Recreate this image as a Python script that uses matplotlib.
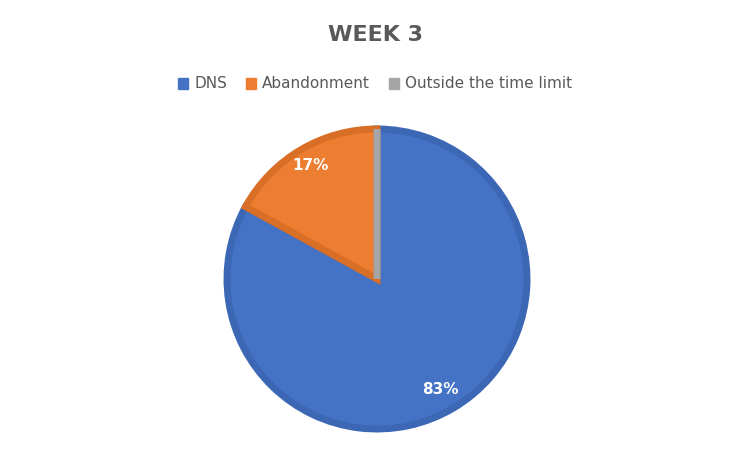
import matplotlib
matplotlib.use("Agg")
import matplotlib.pyplot as plt
from matplotlib.patches import Patch

labels = ["DNS", "Abandonment", "Outside the time limit"]
values = [83, 17, 0]
fills = ["#4472C4", "#ED7D31", "#A5A5A5"]
edges = ["#3C67B5", "#D96F27", "#A5A5A5"]

fig = plt.figure(figsize=(7.5, 4.53), dpi=100)
ax = fig.add_axes([0, 0, 1, 1])

wedges, texts, autotexts = ax.pie(
    values, startangle=90, counterclock=False, colors=fills,
    explode=[0.0, 0.035, 0.0], center=(377, 453 - 279), radius=150,
    autopct=lambda p: f"{p:.0f}%" if p > 0.5 else "", pctdistance=0.78,
    wedgeprops=dict(linewidth=5, joinstyle="miter"),
    textprops=dict(color="white", fontsize=11, fontweight="bold"),
)
for w, e in zip(wedges, edges):
    w.set_edgecolor(e)
# nudge labels to Excel-like spots
autotexts[0].set_position((440, 453 - 390))
autotexts[1].set_position((310, 453 - 165))

ax.set_xlim(0, 750)
ax.set_ylim(0, 453)
ax.set_aspect("equal")
ax.axis("off")

fig.text(0.5, 1 - 35 / 453, "WEEK 3", ha="center", va="center",
         fontsize=16, fontweight="bold", color="#595959")
handles = [Patch(facecolor=c, edgecolor=c) for c in fills]
fig.legend(handles, labels, loc="center", bbox_to_anchor=(0.5, 1 - 84 / 453),
           ncol=3, frameon=False, fontsize=11, labelcolor="#595959",
           handlelength=0.7, handleheight=0.7, handletextpad=0.4, columnspacing=1.2)

fig.savefig("out.png", dpi=100)
